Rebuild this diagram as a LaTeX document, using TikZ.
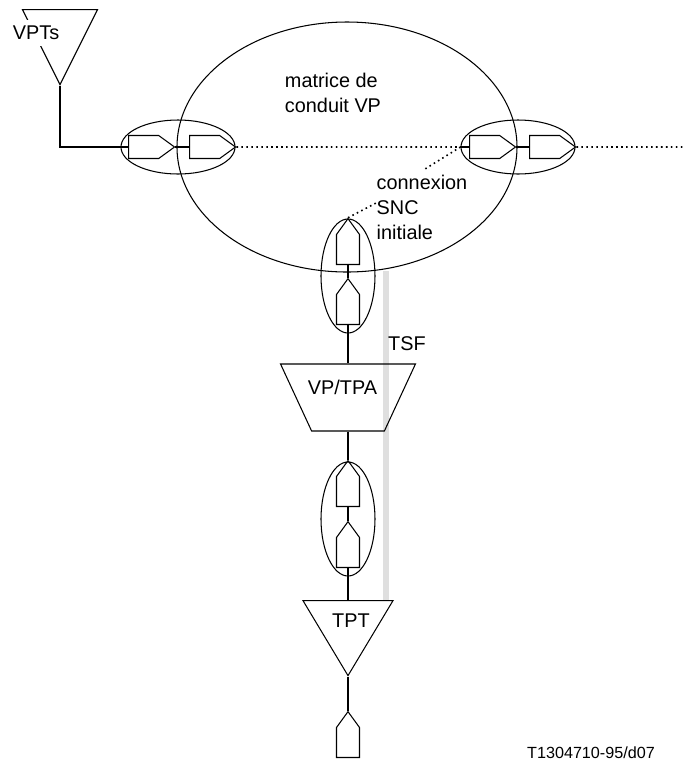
\documentclass[tikz,border=0pt]{standalone}
\usepackage{fontspec}
\setmainfont{Liberation Sans}
\usetikzlibrary{shapes.geometric,shapes.symbols}

\begin{document}
\begin{tikzpicture}[line width=0.6pt,
        lbl/.style={font=\fontsize{11.3}{14.2}\selectfont,inner sep=0pt,align=left},
        loupe/.style={ellipse,draw,inner sep=0pt},
        tcp/.style={signal,draw,inner sep=0pt,signal pointer angle=72,minimum width=0.92cm,minimum height=0.46cm,anchor=west},
        tcpup/.style={signal,signal to=north,draw,inner sep=0pt,signal pointer angle=72,minimum height=0.6cm,minimum width=0.46cm,anchor=south},
        term/.style={isosceles triangle,shape border rotate=270,draw,inner sep=0pt},
        heavy/.style={line width=1.1pt},
        dots/.style={dash pattern=on 0.9pt off 1.93pt,line width=0.9pt}]

    \useasboundingbox (0,0) rectangle (13.66,-15.2);

    % grey band first, the rest goes over it
    \coordinate (tsfTop) at (7.72,-5.42);
    \coordinate (tsfEnd) at (7.72,-12.02);
    \draw[line width=3.4pt, gray!25] (tsfTop) -- (tsfEnd);

    % matrix
    \node[loupe, minimum width=6.8cm, minimum height=5cm] (M) at (6.94,-2.94) {};
    \node[lbl] (mText) at (6.66,-1.86) {matrice de\\conduit VP};

    % left port
    \node[loupe, minimum width=2.28cm, minimum height=1.08cm] (L) at (3.56,-2.94) {};
    \node[tcp] (L1) at (2.56,-2.94) {};
    \node[tcp] (L2) at (3.78,-2.94) {};

    % right port
    \node[loupe, minimum width=2.28cm, minimum height=1.08cm] (R) at (10.36,-2.94) {};
    \node[tcp] (R1) at (9.38,-2.94) {};
    \node[tcp] (R2) at (10.58,-2.94) {};
    \coordinate (farEnd) at (13.66,-2.94);
    \coordinate (cTop) at (8.5,-3.38);
    \coordinate (cLow) at (7.52,-4.06);

    % lower ports
    \node[loupe, minimum width=1.08cm, minimum height=2.28cm] (U) at (6.96,-5.52) {};
    \node[tcpup] (U1) at (6.96,-5.3) {};
    \node[tcpup] (U2) at (6.96,-6.5) {};
    \node[loupe, minimum width=1.08cm, minimum height=2.28cm] (D) at (6.96,-10.38) {};
    \node[tcpup] (D1) at (6.96,-10.14) {};
    \node[tcpup] (D2) at (6.96,-11.36) {};
    \node[tcpup] (B) at (6.96,-15.16) {};

    % adaptation and termination
    \node[trapezium, draw, inner sep=0pt, shape border rotate=180, trapezium left angle=68, trapezium right angle=68,
        trapezium stretches=true, minimum width=2.7cm, minimum height=1.34cm] (A) at (6.96,-7.95) {\phantom{x}};
    \node[lbl] (aText) at (6.85,-7.74) {VP/TPA};
    \node[term, isosceles triangle stretches, minimum width=1.5cm, minimum height=1.5cm, anchor=apex] (V) at (1.2,-1.72) {\phantom{x}};
    \node[lbl, fill=white, inner ysep=0.12cm] (vText) at (0.72,-0.66) {VPTs};
    \node[term, isosceles triangle stretches, minimum width=1.8cm, minimum height=1.5cm, anchor=apex] (T) at (6.96,-13.54) {\phantom{x}};
    \node[lbl] (tText) at (7.02,-12.42) {TPT};

    \node[lbl] (cText) at (8.44,-4.14) {connexion\\SNC\\initiale};
    \node[lbl] (sText) at (8.14,-6.88) {TSF};
    \node[font=\fontsize{9.2}{11}\selectfont, inner sep=0pt, anchor=base] (ref) at (11.82,-15.16) {T1304710-95/d07};

    \draw (V.apex) |- (L.west) -- (L1.west);
    \path[heavy, draw]
    (L1.east) -- (L2.west)
    (R.west) -- (R1.west)
    (R1.east) -- (R2.west)
    (U1.south) -- (U2.north)
    (U2.south) -- (A.bottom side)
    (A.top side) -- (D1.north)
    (D1.south) -- (D2.north)
    (D2.south) -- (T.lower side)
    (T.apex) -- (B.north);
    \path[dots, draw]
    (L2.east) -- (R.west)
    (R2.east) -- (farEnd)
    (R.west) -- (cTop)
    (U1.north) -- (cLow);

\end{tikzpicture}
\end{document}
